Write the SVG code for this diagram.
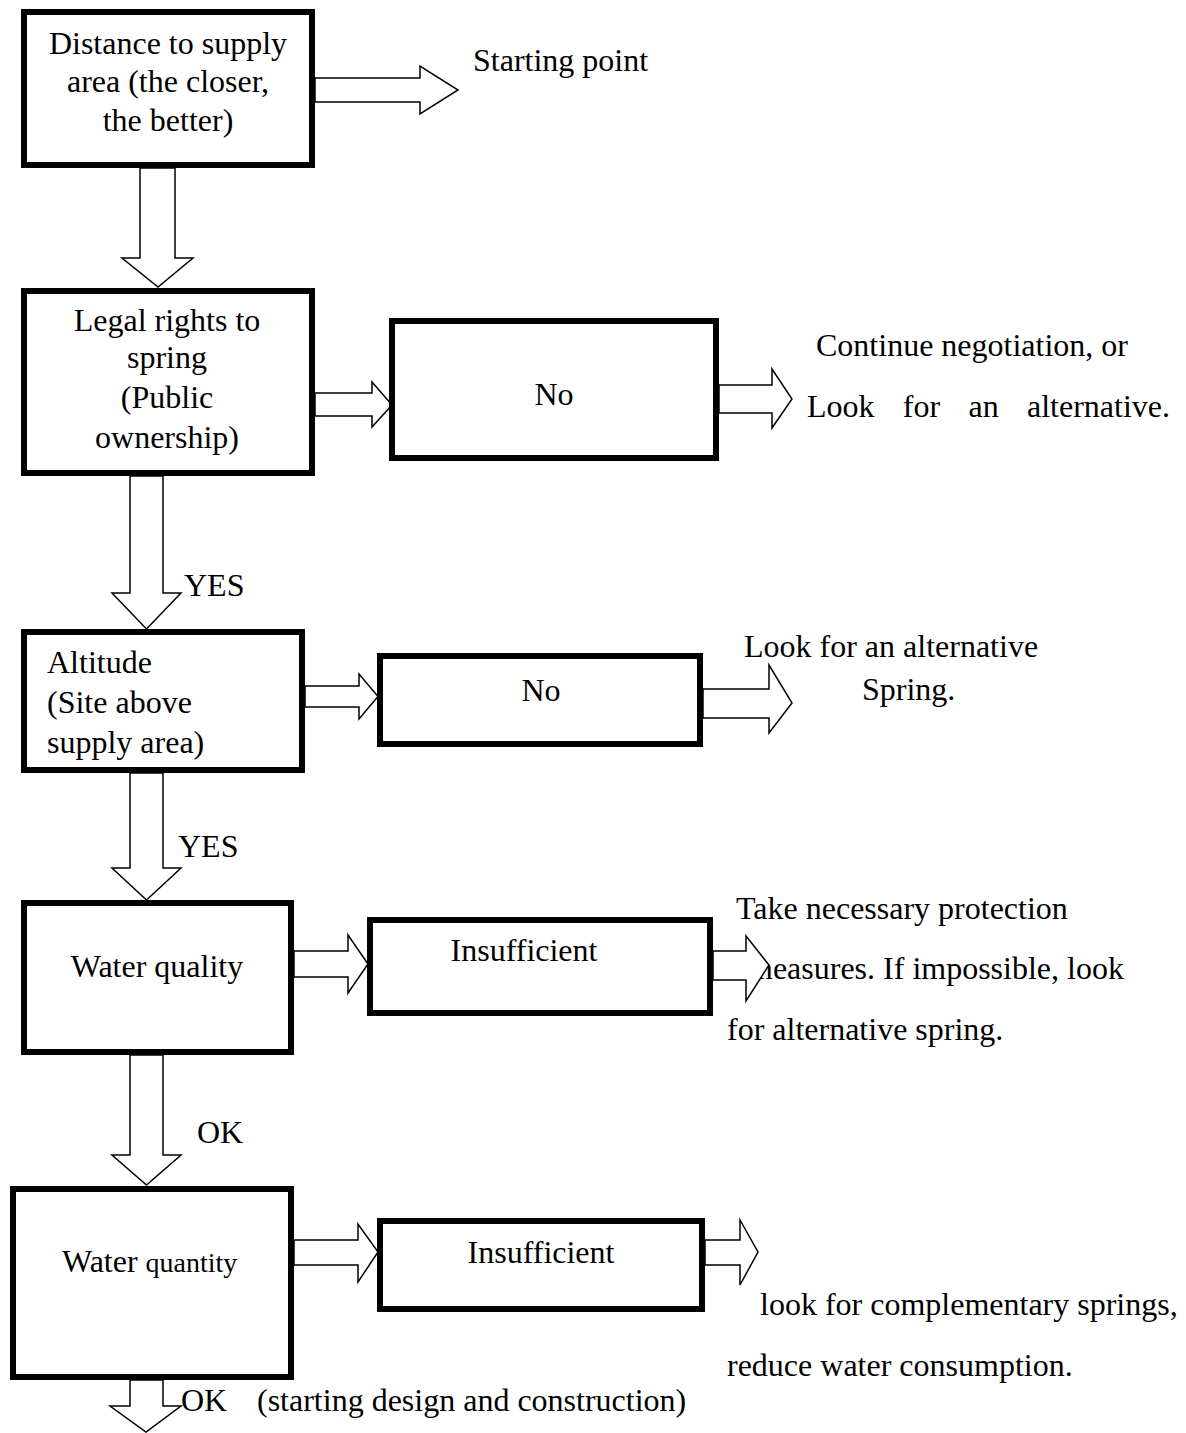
<svg xmlns="http://www.w3.org/2000/svg" width="1186" height="1433" viewBox="0 0 1186 1433">
<style>
.box{fill:#fff;stroke:#000;stroke-width:6}
.arr{fill:#fff;stroke:#000;stroke-width:1.5;stroke-linejoin:miter}
text{font-family:"Liberation Serif","Times New Roman",serif;font-size:32px;fill:#000}
.c{text-anchor:middle}
</style>
<rect width="1186" height="1433" fill="#fff"/>
<g id="connectors">
<polygon class="arr" points="315,78 420,78 420,66 458,90 420,114 420,102 315,102"/>
<polygon class="arr" points="140,168 175,168 175,258 193,258 158,287 122,258 140,258"/>
<polygon class="arr" points="315,393 372,393 372,382 392,405 372,427 372,416 315,416"/>
<polygon class="arr" points="719,385 772,385 772,369 792,399 772,428 772,413 719,413"/>
<polygon class="arr" points="130,476 163,476 163,593 181,593 146.5,629 112,593 130,593"/>
<polygon class="arr" points="305,686 359,686 359,674 378,696.5 359,719 359,707 305,707"/>
<polygon class="arr" points="703,689 769,689 769,665 792,703 769,733 769,718 703,718"/>
<polygon class="arr" points="130,773 163,773 163,868 181,868 146.5,900 112,868 130,868"/>
<polygon class="arr" points="294,951 348,951 348,935 368,964 348,993 348,977 294,977"/>
<polygon class="arr" points="130,1055 163,1055 163,1155 181,1155 146.5,1185 112,1155 130,1155"/>
<polygon class="arr" points="294,1240 358,1240 358,1224 378,1252 358,1282 358,1265 294,1265"/>
<polygon class="arr" points="705,1240 740,1240 740,1220 758,1252 740,1285 740,1265 705,1265"/>
<polygon class="arr" points="130,1380 163,1380 163,1406 181,1406 146,1432 110,1406 130,1406"/>
<text x="184" y="596">YES</text>
<text x="178" y="857">YES</text>
<text x="197" y="1143">OK</text>
</g>
<g id="n1">
<rect class="box" x="24" y="12" width="288" height="153"/>
<text class="c" x="168" y="54">Distance to supply</text>
<text class="c" x="168" y="92">area (the closer,</text>
<text class="c" x="168" y="131">the better)</text>
</g>
<g id="n1-out"><text x="473" y="71">Starting point</text></g>
<g id="n2">
<rect class="box" x="24" y="291" width="288" height="182"/>
<text class="c" x="167" y="331">Legal rights to</text>
<text class="c" x="167" y="368">spring</text>
<text class="c" x="167" y="408">(Public</text>
<text class="c" x="167" y="448">ownership)</text>
</g>
<g id="n2-no">
<rect class="box" x="392" y="321" width="324" height="137"/>
<text class="c" x="554" y="405">No</text>
</g>
<g id="n2-out">
<text x="816" y="356">Continue negotiation, or</text>
<text x="807" y="417" word-spacing="20.3">Look for an alternative.</text>
</g>
<g id="n3">
<rect class="box" x="24" y="632" width="278" height="138"/>
<text x="47" y="673">Altitude</text>
<text x="47" y="713">(Site above</text>
<text x="47" y="753">supply area)</text>
</g>
<g id="n3-no">
<rect class="box" x="380" y="656" width="320" height="88"/>
<text class="c" x="541" y="701">No</text>
</g>
<g id="n3-out">
<text x="744" y="657">Look for an alternative</text>
<text x="862" y="700">Spring.</text>
</g>
<g id="n4">
<rect class="box" x="24" y="903" width="267" height="149"/>
<text class="c" x="157" y="977">Water quality</text>
</g>
<g id="n4-ins">
<rect class="box" x="370" y="920" width="340" height="93"/>
<text class="c" x="524" y="961">Insufficient</text>
</g>
<g id="n4-out">
<text x="736" y="919">Take necessary protection</text>
<text x="748" y="979">measures. If impossible, look</text>
<text x="727" y="1040">for alternative spring.</text>
</g>
<g id="n5">
<rect class="box" x="13" y="1189" width="278" height="188"/>
<text x="62" y="1272">Water <tspan font-size="28">quantity</tspan></text>
</g>
<g id="n5-ins">
<rect class="box" x="380" y="1221" width="322" height="88"/>
<text class="c" x="541" y="1263">Insufficient</text>
</g>
<g id="n5-out">
<text x="760" y="1315">look for complementary springs,</text>
<text x="727" y="1376">reduce water consumption.</text>
</g>
<g id="end">
<text x="181" y="1411">OK</text>
<text x="257" y="1411">(starting design and construction)</text>
</g>
<g id="connector-over-text">
<polygon class="arr" points="713,951 746,951 746,936 769,965 746,1001 746,980 713,980"/>
</g>
</svg>
